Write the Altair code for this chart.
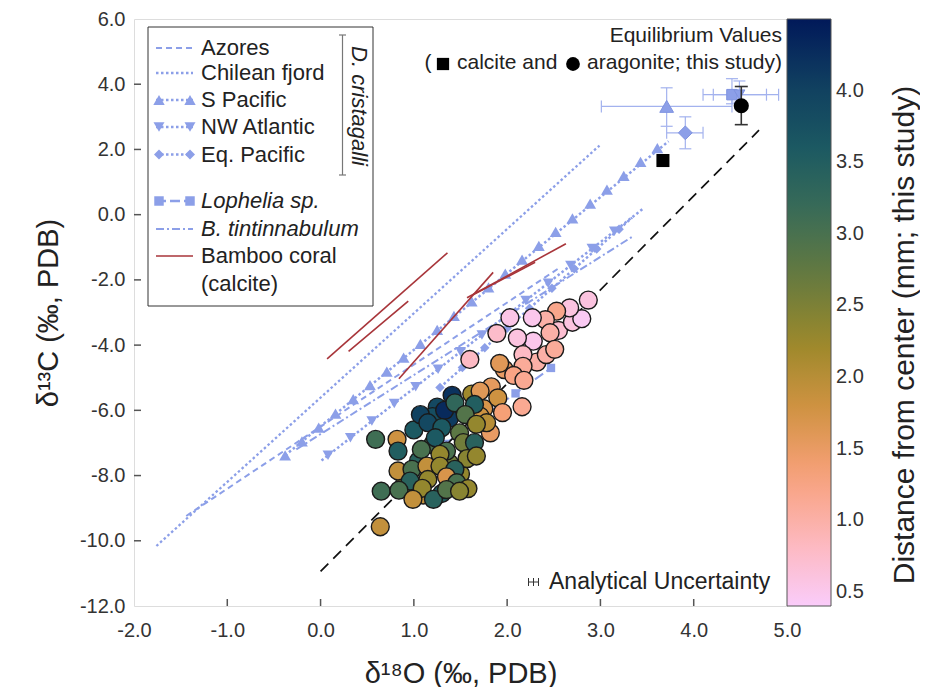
import altair as alt
import pandas as pd

# ---------------- this study: coral samples ----------------
d18o = [1.05, 1.20, 1.38, 1.10, 1.30, 0.90, 1.50, 1.62, 1.75, 1.62, 1.97, 2.32, 2.55, 2.70,
        1.00, 1.38, 1.25,
        1.20, 1.33,
        2.87, 2.80, 2.67, 2.53, 2.41, 2.27, 2.03, 2.46, 2.28, 2.11,
        1.89, 2.17, 2.42, 2.51, 1.60, 2.17, 1.92, 2.07, 2.18, 1.83,
        1.71, 1.90, 1.95, 2.16, 1.82, 1.71, 1.78, 1.41, 1.44, 1.65,
        1.55, 1.07, 1.15, 1.30, 1.49, 1.67, 1.23, 0.59, 0.82, 0.83,
        1.08, 1.35, 1.53, 1.65, 1.28, 1.57, 1.67, 0.83, 0.98, 1.14,
        1.28, 1.44, 1.35, 0.96, 1.15, 1.46, 1.58, 0.65, 0.84, 1.09,
        0.99, 1.21, 1.35, 1.49, 0.64]
d13c = [-7.55, -7.05, -7.62, -8.60, -8.55, -8.25, -7.95, -7.05, -5.95, -5.50, -4.75, -4.52, -3.55, -3.30,
        -6.60, -6.25, -5.90,
        -6.19, -6.00,
        -2.62, -3.19, -2.86, -2.96, -3.22, -3.16, -3.16, -3.62, -3.88, -3.78,
        -3.64, -4.29, -4.29, -4.13, -4.44, -4.65, -4.56, -4.93, -5.08, -5.28,
        -5.41, -5.62, -6.07, -5.89, -6.69, -6.18, -6.38, -5.54, -5.77, -5.82,
        -6.13, -6.13, -6.38, -6.53, -6.69, -6.43, -6.84, -6.89, -6.89, -7.25,
        -7.20, -7.25, -6.99, -6.99, -7.35, -7.48, -7.40, -7.86, -7.81, -7.71,
        -7.71, -7.81, -8.04, -8.17, -8.12, -8.22, -8.40, -8.48, -8.45, -8.39,
        -8.73, -8.73, -8.43, -8.48, -9.57]
dist_mm = [3.4, 3.0, 2.6, 1.9, 3.5, 2.3, 2.3, 1.8, 1.7, 2.2, 1.5, 1.0, 0.7, 0.6,
           3.6, 4.1, 3.9,
           3.8, 4.3,
           0.6, 0.45, 0.6, 1.2, 1.0, 0.5, 0.55, 1.0, 0.5, 0.6,
           0.75, 0.8, 1.0, 1.1, 0.8, 1.1, 1.6, 1.25, 1.15, 1.55,
           1.6, 1.8, 1.35, 1.15, 1.5, 1.8, 2.0, 4.2, 3.3, 3.5,
           2.9, 4.0, 3.9, 3.6, 2.8, 2.3, 3.6, 3.1, 1.8, 3.5,
           3.0, 3.0, 2.6, 3.4, 2.3, 2.4, 2.3, 1.9, 3.0, 1.9,
           2.3, 3.4, 1.7, 3.4, 2.3, 3.0, 2.3, 3.1, 3.0, 2.3,
           1.9, 3.4, 2.9, 2.4, 1.9]

# ---------------- published relationships ----------------
azores_x = [-1.44, 2.57]
azores_y = [-9.24, -1.61]
chile_x = [-1.76, 2.99]
chile_y = [-10.16, 2.12]
spac_x = [-0.38, 3.73]
spac_y = [-7.38, 2.25]
spac_mx = [-0.38, -0.20, -0.02, 0.16, 0.35, 0.53, 0.71, 0.89, 1.07, 1.25, 1.43, 1.62,
           1.80, 1.98, 2.16, 2.34, 2.52, 2.70, 2.89, 3.07, 3.25, 3.43, 3.61]
spac_my = [-7.38, -6.95, -6.53, -6.10, -5.66, -5.23, -4.81, -4.38, -3.96, -3.53, -3.10, -2.66,
           -2.23, -1.81, -1.38, -0.96, -0.53, -0.11, 0.34, 0.77, 1.19, 1.62, 2.04]
nwa_x = [0.01, 3.46]
nwa_y = [-7.54, 0.19]
nwa_mx = [0.08, 0.32, 0.55, 0.79, 1.02, 1.26, 1.50, 1.73, 1.97, 2.20, 2.44, 2.68, 2.91, 3.15]
nwa_my = [-7.38, -6.84, -6.33, -5.79, -5.28, -4.74, -4.20, -3.69, -3.15, -2.63, -2.10, -1.56, -1.04, -0.51]
eqp_x = [1.28, 3.34]
eqp_y = [-5.30, -0.09]
eqp_mx = [1.28, 1.52, 1.76, 2.00, 2.24, 2.48, 2.72, 2.96, 3.20]
eqp_my = [-5.30, -4.69, -4.08, -3.48, -2.87, -2.26, -1.66, -1.05, -0.45]
loph_x = [1.20, 2.50]
loph_y = [-7.30, -4.64]
loph_mx = [1.33, 1.71, 2.09, 2.47]
loph_my = [-7.03, -6.25, -5.48, -4.70]
btin_x = [-0.26, 3.35]
btin_y = [-7.20, -0.66]
bamboo_x1 = [0.07, 0.30, 0.84, 1.57, 1.64]
bamboo_y1 = [-4.42, -4.19, -5.03, -2.55, -2.45]
bamboo_x2 = [1.36, 0.94, 1.85, 2.63, 2.30]
bamboo_y2 = [-1.17, -2.65, -1.77, -0.89, -1.46]
equil_x = [0.0, 4.70]
equil_y = [-10.94, 2.59]

# ---------------- equilibrium values ----------------
calcite_x = [3.67]
calcite_y = [1.66]
arag_x = [4.51]
arag_y = [3.34]
arag_ylo = [2.76]
arag_yhi = [3.93]
eqpt_name = ["S Pacific", "Eq. Pacific", "Lophelia sp.", "NW Atlantic"]
eqpt_x = [3.71, 3.91, 4.41, 4.49]
eqpt_y = [3.32, 2.51, 3.68, 3.68]
eqpt_xlo = [3.01, 3.71, 4.10, 4.21]
eqpt_xhi = [4.41, 4.10, 4.91, 4.78]
eqpt_ylo = [2.71, 2.02, 3.40, 3.45]
eqpt_yhi = [3.89, 3.00, 4.17, 4.10]

X_TICKS = [-2.0, -1.0, 0.0, 1.0, 2.0, 3.0, 4.0, 5.0]
Y_TICKS = [-12.0, -10.0, -8.0, -6.0, -4.0, -2.0, 0.0, 2.0, 4.0, 6.0]
C_TICKS = [0.5, 1.0, 1.5, 2.0, 2.5, 3.0, 3.5, 4.0]
BATLOW = ["#011959", "#103F60", "#1C5A62", "#3C6D56", "#687B3E",
          "#9D892B", "#D29343", "#F8A17B", "#FDB7BC", "#FACCFA"]

# ---------------- layout / style ----------------
W, H = 653, 587
XMIN, XMAX, YMIN, YMAX = -2.0, 5.0, -12.0, 6.0
CMIN, CMAX = 0.4, 4.5
CB_W = 44
FONT = "Liberation Sans"
BLUE = "#8c9fe8"
BLUE_ERR = "#a3b2ee"
RED = "#a8353a"
DOT = [2.5, 2.5]
LEG_FS = 22


def px2x(p):
    return XMIN + p / W * (XMAX - XMIN)


def py2y(p):
    return YMAX - p / H * (YMAX - YMIN)


xs = alt.Scale(domain=[XMIN, XMAX], nice=False, zero=False)
ys = alt.Scale(domain=[YMIN, YMAX], nice=False, zero=False)
LBL = "replace(format(datum.value, '.1f'), '\u2212', '-')"
x_axis = alt.Axis(title="δ¹⁸O (‰, PDB)", values=X_TICKS, labelExpr=LBL, ticks=False, tickSize=0,
                  domain=False, grid=False, labelFontSize=20, labelPadding=14, labelFlush=False,
                  labelColor="#333333", titleColor="#222222", titleFontSize=29, titlePadding=19,
                  titleFontWeight="normal", labelFont=FONT, titleFont=FONT, labelOverlap=False)
y_axis = alt.Axis(title="δ¹³C (‰, PDB)", values=Y_TICKS, labelExpr=LBL, ticks=False, tickSize=0,
                  domain=False, grid=False, labelFontSize=20, labelPadding=9, labelFlush=False,
                  labelColor="#333333", titleColor="#222222", titleFontSize=29, titlePadding=16,
                  titleFontWeight="normal", labelFont=FONT, titleFont=FONT, labelOverlap=False)


def X(f):
    return alt.X(f, type="quantitative", scale=xs, axis=x_axis)


def Y(f):
    return alt.Y(f, type="quantitative", scale=ys, axis=y_axis)


def line_layer(xv, yv, color, dash=None, width=2.0):
    kw = dict(color=color, strokeWidth=width, clip=False)
    if dash:
        kw["strokeDash"] = dash
    return alt.Chart(pd.DataFrame({"x": xv, "y": yv})).mark_line(**kw).encode(x=X("x"), y=Y("y"))


def point_layer(xv, yv, shape, size, color, stroke=None, sw=0):
    kw = dict(shape=shape, size=size, filled=True, color=color, opacity=1)
    if stroke:
        kw.update(stroke=stroke, strokeWidth=sw)
    return alt.Chart(pd.DataFrame({"x": xv, "y": yv})).mark_point(**kw).encode(x=X("x"), y=Y("y"))


def rule_layer(x1, y1, x2, y2, color, width=1.0, dash=None):
    kw = dict(color=color, strokeWidth=width)
    if dash:
        kw["strokeDash"] = dash
    df = pd.DataFrame({"x": x1, "y": y1, "x2": x2, "y2": y2})
    return alt.Chart(df).mark_rule(**kw).encode(x=X("x"), y=Y("y"), x2="x2", y2="y2")


def text_layer(xv, yv, texts, size=17, align="left", style="normal", angle=0, color="#222222"):
    df = pd.DataFrame({"x": xv, "y": yv, "t": texts})
    kw = dict(font=FONT, fontSize=size, align=align, baseline="middle", color=color,
              fontStyle=style)
    if angle:
        kw["angle"] = angle
    return alt.Chart(df).mark_text(**kw).encode(x=X("x"), y=Y("y"), text="t:N")


layers = []

# ---- regression lines ----
layers.append(line_layer(chile_x, chile_y, BLUE, DOT, 2.3))
layers.append(line_layer(azores_x, azores_y, BLUE, [6, 4], 2.0))
layers.append(line_layer(btin_x, btin_y, BLUE, [8, 3, 2, 3], 2.0))
layers.append(line_layer(spac_x, spac_y, BLUE, DOT, 2.5))
layers.append(point_layer(spac_mx, spac_my, "triangle-up", 140, BLUE))
layers.append(line_layer(nwa_x, nwa_y, BLUE, DOT, 2.5))
layers.append(point_layer(nwa_mx, nwa_my, "triangle-down", 120, BLUE))
layers.append(line_layer(eqp_x, eqp_y, BLUE, DOT, 2.5))
layers.append(point_layer(eqp_mx, eqp_my, "diamond", 90, BLUE))
layers.append(line_layer(loph_x, loph_y, BLUE, [10, 4], 2.0))
layers.append(point_layer(loph_mx, loph_my, "square", 70, BLUE))
layers.append(rule_layer(bamboo_x1, bamboo_y1, bamboo_x2, bamboo_y2, RED, 1.6))
layers.append(line_layer(equil_x, equil_y, "#111111", [11, 7], 1.7))

# ---- inward ticks ----
xt = X_TICKS[1:-1]
layers.append(rule_layer(xt, [YMIN] * len(xt), xt, [py2y(H - 7)] * len(xt), "#555555", 1.5))
yt = Y_TICKS[1:-1]
layers.append(rule_layer([XMIN] * len(yt), yt, [px2x(7)] * len(yt), yt, "#555555", 1.5))

# ---- samples (this study) ----
samples = pd.DataFrame({"x": d18o, "y": d13c, "dist": dist_mm})
cdom = [CMIN + i * (CMAX - CMIN) / (len(BATLOW) - 1) for i in range(len(BATLOW))]
scatter = alt.Chart(samples).mark_circle(size=320, opacity=1, stroke="#1a1a1a", strokeWidth=1.4).encode(
    x=X("x"), y=Y("y"),
    color=alt.Color("dist:Q",
                    scale=alt.Scale(domain=cdom, range=BATLOW[::-1], interpolate="rgb"),
                    legend=alt.Legend(orient="none", legendX=W, legendY=0, direction="vertical",
                                      title=None, gradientLength=H, gradientThickness=CB_W,
                                      gradientStrokeColor="#555555", gradientStrokeWidth=1,
                                      values=C_TICKS, format=".1f", labelFontSize=20, labelFont=FONT,
                                      labelColor="#333333", labelOffset=5, padding=0,
                                      labelOverlap=False)))
layers.append(scatter)

# colorbar ticks (on the right edge, pointing in)
cb_y = [py2y(H * (CMAX - v) / (CMAX - CMIN)) for v in C_TICKS]
layers.append(rule_layer([px2x(W + CB_W - 5)] * len(cb_y), cb_y, [px2x(W + CB_W)] * len(cb_y), cb_y,
                         "#444444", 1.2))
layers.append(text_layer([px2x(771)], [py2y(316)], ["Distance from center (mm; this study)"],
                         size=30, align="center", angle=270))

# ---- equilibrium values with error bars ----
eq_style = {"S Pacific": ("triangle-up", 190), "Eq. Pacific": ("diamond", 190),
            "Lophelia sp.": ("square", 110), "NW Atlantic": ("triangle-down", 120)}
layers.append(rule_layer(eqpt_xlo, eqpt_y, eqpt_xhi, eqpt_y, BLUE_ERR, 1.2))
layers.append(rule_layer(eqpt_x, eqpt_ylo, eqpt_x, eqpt_yhi, BLUE_ERR, 1.2))
capx = pd.DataFrame({"x": eqpt_xlo + eqpt_xhi, "y": eqpt_y + eqpt_y})
layers.append(alt.Chart(capx).mark_tick(orient="vertical", size=12, thickness=1.2, color=BLUE_ERR,
                                        opacity=1).encode(x=X("x"), y=Y("y")))
capy = pd.DataFrame({"x": eqpt_x + eqpt_x, "y": eqpt_ylo + eqpt_yhi})
layers.append(alt.Chart(capy).mark_tick(orient="horizontal", size=12, thickness=1.2, color=BLUE_ERR,
                                        opacity=1).encode(x=X("x"), y=Y("y")))
for i, name in enumerate(eqpt_name):
    shp, sz = eq_style[name]
    layers.append(point_layer([eqpt_x[i]], [eqpt_y[i]], shp, sz, BLUE, stroke="#7f93e0", sw=1))
layers.append(point_layer(calcite_x, calcite_y, "square", 170, "#000000"))
layers.append(rule_layer(arag_x, arag_ylo, arag_x, arag_yhi, "#333333", 1.6))
capa = pd.DataFrame({"x": arag_x + arag_x, "y": arag_ylo + arag_yhi})
layers.append(alt.Chart(capa).mark_tick(orient="horizontal", size=13, thickness=1.6, color="#333333",
                                        opacity=1).encode(x=X("x"), y=Y("y")))
layers.append(alt.Chart(pd.DataFrame({"x": arag_x, "y": arag_y})).mark_circle(
    size=230, color="#000000", opacity=1).encode(x=X("x"), y=Y("y")))

# annotation: Equilibrium Values ( ■ calcite and ● aragonite; this study)
layers.append(text_layer([px2x(648)], [py2y(17)], ["Equilibrium Values"], size=21, align="right"))
layers.append(text_layer([px2x(648)], [py2y(44)], ["aragonite; this study)"], size=21, align="right"))
layers.append(text_layer([px2x(323)], [py2y(44)], ["calcite and"], size=21, align="left"))
layers.append(text_layer([px2x(294)], [py2y(44)], ["("], size=21, align="center"))
layers.append(point_layer([px2x(309)], [py2y(45)], "square", 150, "#000000"))
layers.append(alt.Chart(pd.DataFrame({"x": [px2x(439)], "y": [py2y(45)]})).mark_circle(
    size=190, color="#000000", opacity=1).encode(x=X("x"), y=Y("y")))

# ---- analytical uncertainty ----
ux, uy = 399.5, 563
layers.append(rule_layer([px2x(ux - 5)], [py2y(uy)], [px2x(ux + 5)], [py2y(uy)], "#333333", 1))
layers.append(rule_layer([px2x(ux - 5), px2x(ux + 5), px2x(ux)],
                         [py2y(uy - 4), py2y(uy - 4), py2y(uy - 4)],
                         [px2x(ux - 5), px2x(ux + 5), px2x(ux)],
                         [py2y(uy + 4), py2y(uy + 4), py2y(uy + 4)], "#333333", 1))
layers.append(text_layer([px2x(415)], [py2y(uy)], ["Analytical Uncertainty"], size=23))

# ---- legend box ----
box = pd.DataFrame({"x": [px2x(14)], "y": [py2y(8)], "x2": [px2x(239)], "y2": [py2y(287)]})
layers.append(alt.Chart(box).mark_rect(fill="white", stroke="#333333", strokeWidth=1).encode(
    x=X("x"), y=Y("y"), x2="x2", y2="y2"))

leg_names = ["Azores", "Chilean fjord", "S Pacific", "NW Atlantic", "Eq. Pacific",
             "Lophelia sp.", "B. tintinnabulum", "Bamboo coral"]
leg_rows = [29, 54, 81, 108, 135.5, 182, 210, 237]
leg_style = {
    "Azores": (BLUE, [6, 4], 2.0, None, 0),
    "Chilean fjord": (BLUE, DOT, 2.5, None, 0),
    "S Pacific": (BLUE, DOT, 2.5, "triangle-up", 130),
    "NW Atlantic": (BLUE, DOT, 2.5, "triangle-down", 120),
    "Eq. Pacific": (BLUE, DOT, 2.5, "diamond", 100),
    "Lophelia sp.": (BLUE, [10, 4], 2.5, "square", 90),
    "B. tintinnabulum": (BLUE, [8, 3, 2, 3], 2.0, None, 0),
    "Bamboo coral": (RED, None, 1.6, None, 0),
}
for name, ry in zip(leg_names, leg_rows):
    col, dash, wd, shp, sz = leg_style[name]
    layers.append(line_layer([px2x(22), px2x(59)], [py2y(ry), py2y(ry)], col, dash, wd))
    if shp:
        layers.append(point_layer([px2x(25), px2x(56)], [py2y(ry), py2y(ry)], shp, sz, col))
upright = ["Azores", "Chilean fjord", "S Pacific", "NW Atlantic", "Eq. Pacific", "Bamboo coral",
           "(calcite)"]
up_rows = leg_rows[:5] + [237, 265]
layers.append(text_layer([px2x(67)] * len(upright), [py2y(r) for r in up_rows], upright, size=LEG_FS))
layers.append(text_layer([px2x(67)] * 2, [py2y(182), py2y(210)], ["Lophelia sp.", "B. tintinnabulum"],
                         size=LEG_FS, style="italic"))
# D. cristagalli bracket
bx = 208.5
layers.append(rule_layer([px2x(bx)], [py2y(16)], [px2x(bx)], [py2y(156)], "#777777", 1.2))
layers.append(rule_layer([px2x(bx - 3.5), px2x(bx - 3.5)], [py2y(16), py2y(156)],
                         [px2x(bx + 3.5), px2x(bx + 3.5)], [py2y(16), py2y(156)], "#777777", 1.2))
layers.append(text_layer([px2x(225)], [py2y(87)], ["D. cristagalli"], size=LEG_FS, align="center",
                         style="italic", angle=90))

chart = alt.layer(*layers).properties(
    width=W, height=H,
    autosize=alt.AutoSizeParams(type="none"),
    padding={"left": 126, "top": 11, "right": 133, "bottom": 81},
).configure_view(stroke="#5a5a5a", strokeWidth=1.6).configure(background="white")

chart.save("out.html", embed_options={"renderer": "svg", "actions": False})
